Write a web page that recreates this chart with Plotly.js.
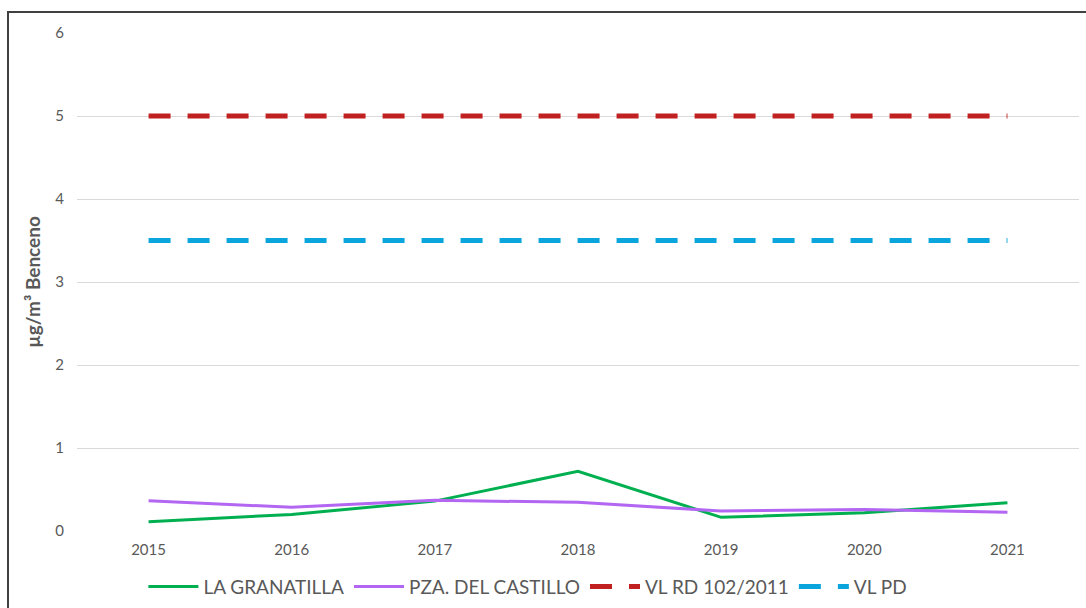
<!DOCTYPE html>
<html>
<head>
<meta charset="utf-8">
<script src="https://cdn.plot.ly/plotly-3.0.1.min.js"></script>
<style>
  html, body { margin: 0; padding: 0; background: #fff; }
  #chart { width: 1086px; height: 608px; position: absolute; left: 0; top: 0; }
  #frame { position: absolute; left: 7px; top: 11px; width: 1100px; height: 620px;
           border-left: 2px solid #404040; border-top: 2px solid #404040; pointer-events: none; }
</style>
</head>
<body>
<div id="chart"></div>
<div id="frame"></div>
<script>
const years = ["2015", "2016", "2017", "2018", "2019", "2020", "2021"];
const laGranatilla = [0.11, 0.20, 0.36, 0.72, 0.165, 0.22, 0.34];
const pzaDelCastillo = [0.365, 0.285, 0.37, 0.345, 0.24, 0.26, 0.225];
const vlRD = [5, 5, 5, 5, 5, 5, 5];
const vlPD = [3.5, 3.5, 3.5, 3.5, 3.5, 3.5, 3.5];
const seriesNames = ["LA GRANATILLA", "PZA. DEL CASTILLO", "VL RD 102/2011", "VL PD"];

const traces = [
  { x: years, y: laGranatilla, name: seriesNames[0], type: "scatter", mode: "lines",
    line: { color: "#00B050", width: 3 } },
  { x: years, y: pzaDelCastillo, name: seriesNames[1], type: "scatter", mode: "lines",
    line: { color: "#B266F2", width: 3 } },
  { x: years, y: vlRD, name: seriesNames[2], type: "scatter", mode: "lines",
    line: { color: "#C0201F", width: 5, dash: "22px,17px" } },
  { x: years, y: vlPD, name: seriesNames[3], type: "scatter", mode: "lines",
    line: { color: "#0AA5DC", width: 5, dash: "22px,17px" } }
];

const layout = {
  width: 1086, height: 608,
  margin: { l: 77, r: 7, t: 33, b: 77, autoexpand: false },
  paper_bgcolor: "#fff", plot_bgcolor: "#fff",
  font: { family: "Lato, 'Open Sans', sans-serif", color: "#595959", size: 15 },
  showlegend: true,
  legend: { orientation: "h", xref: "paper", x: 0.45, xanchor: "center",
            yref: "container", y: 0.035, yanchor: "middle", itemwidth: 50,
            font: { size: 19, color: "#595959" }, tracegroupgap: 0 },
  xaxis: { type: "category", range: [-0.5, 6.5], showgrid: false, zeroline: false,
           showline: false, ticks: "", ticklabelstandoff: 8,
           tickfont: { size: 15, color: "#595959" } },
  yaxis: { range: [0, 6], dtick: 1, showgrid: true, gridcolor: "#D9D9D9", gridwidth: 1,
           zeroline: false, showline: false, ticks: "", ticklabelstandoff: 12,
           tickfont: { size: 15, color: "#595959" },
           title: { text: "<b>µg/m³ Benceno</b>", font: { size: 19, color: "#595959" }, standoff: 9 } }
};

Plotly.newPlot("chart", traces, layout, { displayModeBar: false, staticPlot: true });
</script>
</body>
</html>
